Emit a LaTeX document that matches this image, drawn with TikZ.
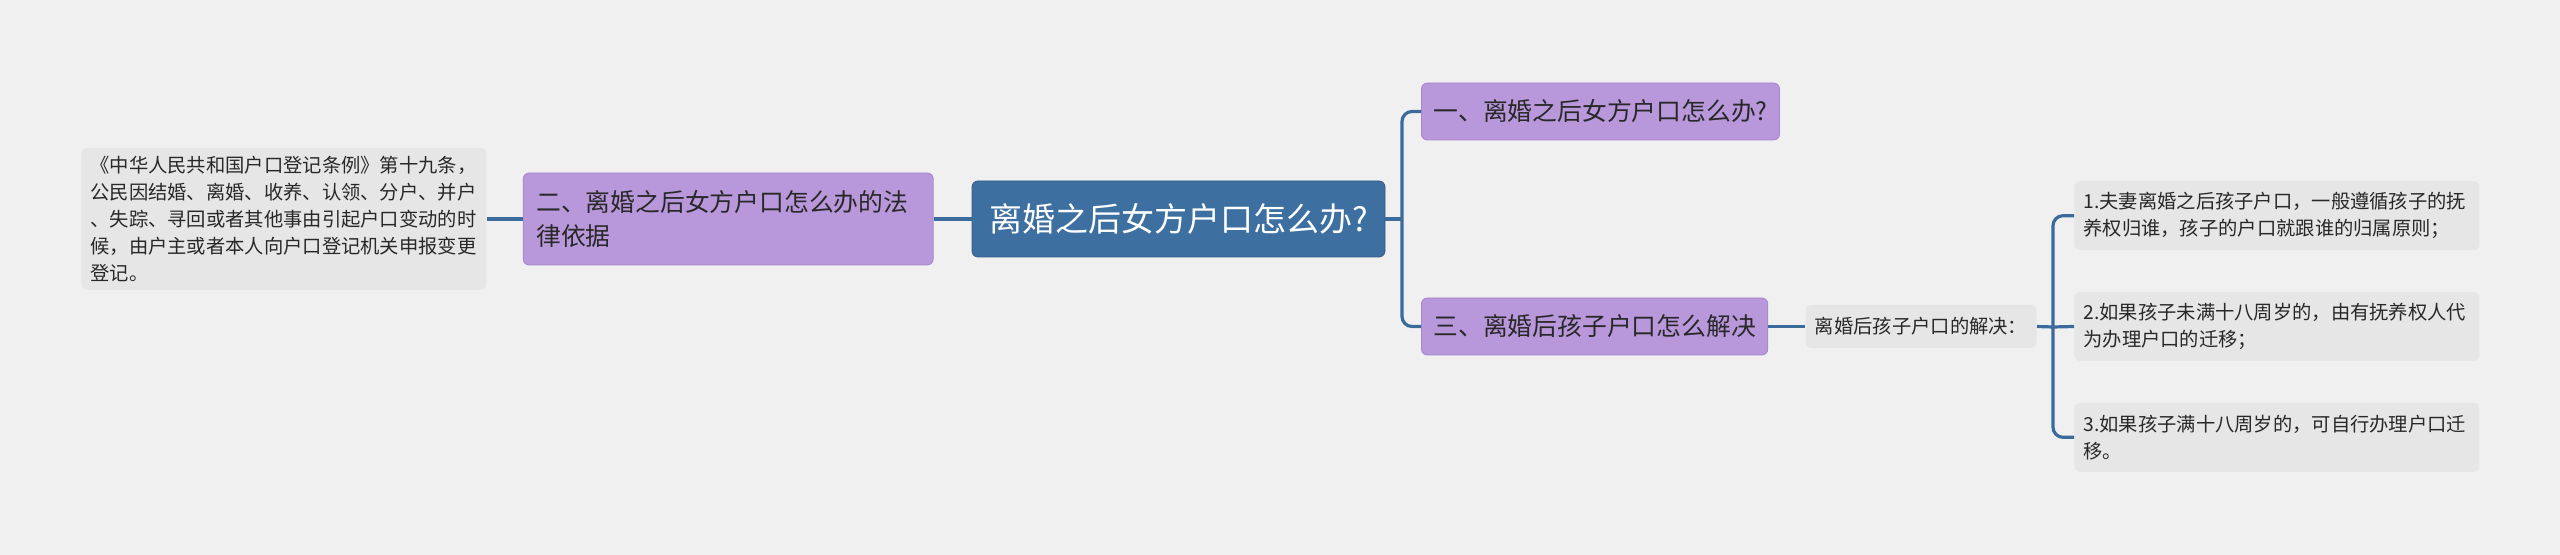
\documentclass[tikz,border=0pt]{standalone}
\usepackage{fontspec}
\setmainfont{Noto Sans CJK SC}
\usetikzlibrary{positioning}

\definecolor{bgcol}{RGB}{240,240,240}
\definecolor{rootfill}{RGB}{61,112,161}
\definecolor{rootedge}{RGB}{48,92,136}
\definecolor{topicfill}{RGB}{184,151,218}
\definecolor{topicedge}{RGB}{166,132,206}
\definecolor{notefill}{RGB}{230,230,230}
\definecolor{linkblue}{RGB}{58,107,155}
\definecolor{inkgray}{RGB}{40,40,40}

\newcommand{\mmroot}{\fontsize{16.5}{20}\selectfont}
\newcommand{\mmtopic}{\fontsize{12.4}{17}\selectfont}
\newcommand{\mmnote}{\fontsize{9.65}{13.5}\selectfont}

\begin{document}
\begin{tikzpicture}[
    x=0.5pt, y=-0.5pt,
    root/.style={rectangle, draw=rootedge, fill=rootfill, rounded corners=3pt, text=white, font=\mmroot, minimum width=206.5pt, minimum height=38pt, inner sep=0pt},
    topic/.style={rectangle, draw=topicedge, fill=topicfill, rounded corners=3pt, text=inkgray, font=\mmtopic, minimum height=28.5pt, inner xsep=6pt, inner ysep=0pt},
    note/.style={rectangle, fill=notefill, rounded corners=3pt, text=inkgray, font=\mmnote, align=left, inner xsep=4.5pt, inner ysep=0pt},
    link/.style={draw=linkblue, line width=1.6pt, rounded corners=5pt}
]
\fill[bgcol] (0,0) rectangle (2560,555);
\useasboundingbox (0,0) rectangle (2560,555);

% NODES
\node[root] (root) at (1178.5,219) {离婚之后女方户口怎么办?};
\node[topic, anchor=west, minimum width=178.5pt] (first) at (1421,111.5) {一、离婚之后女方户口怎么办?};
\node[topic, left=19pt of root, align=left, text width=192pt, minimum height=46pt, inner xsep=6.5pt] (second) {二、离婚之后女方户口怎么办的法\\律依据};
\node[topic, anchor=west, minimum width=173pt] (third) at (1421,326.5) {三、离婚后孩子户口怎么解决};
\node[note, left=18pt of second, text width=193.5pt, minimum height=71pt] (lawtext) {《中华人民共和国户口登记条例》第十九条，\\公民因结婚、离婚、收养、认领、分户、并户\\、失踪、寻回或者其他事由引起户口变动的时\\候，由户主或者本人向户口登记机关申报变更\\登记。};
\node[note, right=18.5pt of third, minimum width=115.5pt, minimum height=21.5pt, align=center] (solve) {离婚后孩子户口的解决：};
\node[note, right=18.5pt of solve, text width=193.5pt, minimum height=34.5pt] (rule2) {2.如果孩子未满十八周岁的，由有抚养权人代\\为办理户口的迁移；};
\node[note, above=20.5pt of rule2, text width=193.5pt, minimum height=34.5pt] (rule1) {1.夫妻离婚之后孩子户口，一般遵循孩子的抚\\养权归谁，孩子的户口就跟谁的归属原则；};
\node[note, below=20.5pt of rule2, text width=193.5pt, minimum height=34.5pt] (rule3) {3.如果孩子满十八周岁的，可自行办理户口迁\\移。};

\coordinate (rootjoin) at (1402,219);
\coordinate (solvejoin) at (2053,327);

% ARROWS
\draw[link] (root.east) -- (rootjoin);
\draw[link] (rootjoin) |- (first.west);
\draw[link] (rootjoin) |- (third.west);
\draw[link] (root.west) -- (second.east);
\draw[link] (second.west) -- (lawtext.east);
\draw[link] (third.east) -- (solve.west);
\draw[link] (solve.east) -- (solvejoin);
\draw[link] (solvejoin) |- (rule1.west);
\draw[link] (solvejoin) -- (rule2.west);
\draw[link] (solvejoin) |- (rule3.west);

\end{tikzpicture}
\end{document}
